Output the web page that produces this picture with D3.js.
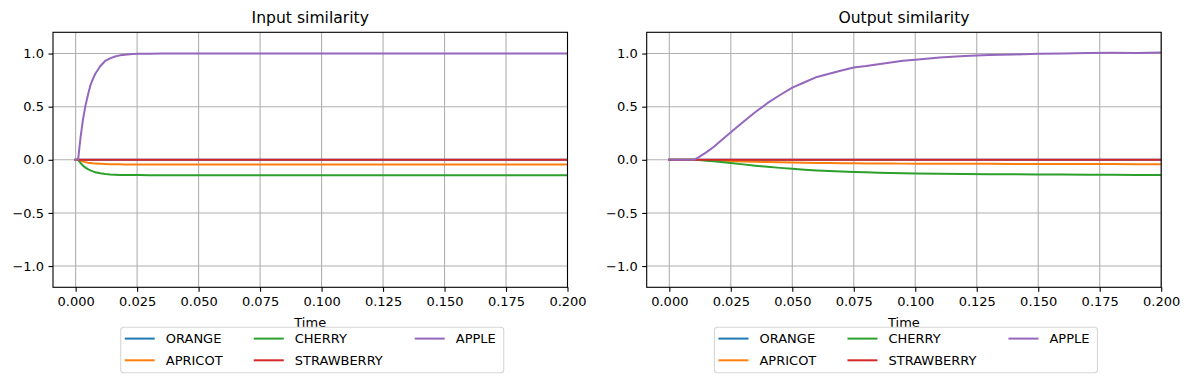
<!DOCTYPE html>
<html>
<head>
<meta charset="utf-8">
<script src="https://cdn.jsdelivr.net/npm/d3@7"></script>
<style>
  body { margin: 0; background: #fff; }
  text { font-family: "DejaVu Sans", sans-serif; fill: #000; }
</style>
</head>
<body>
<div id="chart"></div>
<script>
// series names, drawn in this order
var names = ["ORANGE", "APRICOT", "CHERRY", "STRAWBERRY", "APPLE"];
var colors = ["#1f77b4", "#ff7f0e", "#2ca02c", "#d62728", "#9467bd"];

// input similarity
var inTime = [0, 0.001, 0.002, 0.003, 0.004, 0.005, 0.006, 0.007, 0.008, 0.010, 0.012, 0.014, 0.016, 0.018, 0.020, 0.023, 0.026, 0.030, 0.035, 0.040, 0.050, 0.075, 0.100, 0.125, 0.150, 0.175, 0.200];
var inOrange = [0, 0, 0, 0, 0, 0, 0, 0, 0, 0, 0, 0, 0, 0, 0, 0, 0, 0, 0, 0, 0, 0, 0, 0, 0, 0, 0];
var inApricot = [0, 0, -0.009, -0.016, -0.022, -0.027, -0.030, -0.033, -0.035, -0.038, -0.040, -0.042, -0.043, -0.043, -0.044, -0.044, -0.044, -0.044, -0.044, -0.044, -0.044, -0.044, -0.044, -0.044, -0.044, -0.044, -0.044];
var inCherry = [0, 0, -0.030, -0.055, -0.074, -0.088, -0.100, -0.109, -0.117, -0.127, -0.134, -0.138, -0.140, -0.142, -0.143, -0.144, -0.144, -0.145, -0.145, -0.145, -0.145, -0.145, -0.145, -0.145, -0.145, -0.145, -0.145];
var inStrawberry = [0, 0, 0, 0, 0, 0, 0, 0, 0, 0, 0, 0, 0, 0, 0, 0, 0, 0, 0, 0, 0, 0, 0, 0, 0, 0, 0];
var inApple = [0, 0, 0.21, 0.38, 0.51, 0.61, 0.70, 0.76, 0.81, 0.88, 0.93, 0.955, 0.972, 0.983, 0.989, 0.995, 0.997, 0.999, 1.0, 1.0, 1.0, 1.0, 1.0, 1.0, 1.0, 1.0, 1.0];

// output similarity
var outTime = [0, 0.005, 0.010, 0.012, 0.015, 0.018, 0.020, 0.025, 0.030, 0.035, 0.040, 0.045, 0.050, 0.055, 0.060, 0.065, 0.070, 0.075, 0.080, 0.085, 0.090, 0.095, 0.100, 0.110, 0.120, 0.130, 0.140, 0.150, 0.160, 0.170, 0.180, 0.190, 0.200];
var outOrange = [0, 0, 0, 0, 0, 0, 0, 0, 0, 0, 0, 0, 0, 0, 0, 0, 0, 0, 0, 0, 0, 0, 0, 0, 0, 0, 0, 0, 0, 0, 0, 0, 0];
var outApricot = [0, 0, 0, -0.001, -0.003, -0.005, -0.007, -0.011, -0.015, -0.018, -0.021, -0.024, -0.026, -0.028, -0.029, -0.031, -0.032, -0.033, -0.034, -0.035, -0.035, -0.036, -0.036, -0.037, -0.038, -0.038, -0.039, -0.039, -0.040, -0.040, -0.040, -0.041, -0.041];
var outCherry = [0, 0, 0, -0.003, -0.008, -0.014, -0.019, -0.030, -0.043, -0.055, -0.066, -0.076, -0.085, -0.093, -0.100, -0.106, -0.111, -0.115, -0.118, -0.121, -0.124, -0.126, -0.128, -0.131, -0.133, -0.135, -0.137, -0.138, -0.139, -0.140, -0.141, -0.142, -0.143];
var outStrawberry = [0, 0, 0, 0, 0, 0, 0, 0, 0, 0, 0, 0, 0, 0, 0, 0, 0, 0, 0, 0, 0, 0, 0, 0, 0, 0, 0, 0, 0, 0, 0, 0, 0];
var outApple = [0, 0, 0, 0.025, 0.07, 0.12, 0.16, 0.26, 0.355, 0.45, 0.535, 0.61, 0.68, 0.73, 0.78, 0.81, 0.84, 0.868, 0.882, 0.90, 0.915, 0.932, 0.942, 0.962, 0.976, 0.987, 0.991, 0.998, 1.0, 1.006, 1.008, 1.006, 1.01];

var xTicks = [0, 0.025, 0.05, 0.075, 0.1, 0.125, 0.15, 0.175, 0.2];
var yTicks = [-1.0, -0.5, 0.0, 0.5, 1.0];

var panels = [
  {title: "Input similarity", left: 53, time: inTime, series: [inOrange, inApricot, inCherry, inStrawberry, inApple]},
  {title: "Output similarity", left: 646.7, time: outTime, series: [outOrange, outApricot, outCherry, outStrawberry, outApple]}
];

var W = 1189, H = 383;
var plotTop = 32.3, plotW = 514.5, plotH = 255;

var svg = d3.select("#chart").append("svg")
  .attr("width", W)
  .attr("height", H);

var fmtX = d3.format(".3f");
var fmtY = function(v) { return d3.format(".1f")(v).replace("-", "\u2212"); };

panels.forEach(function(p, pi) {
  var g = svg.append("g").attr("transform", "translate(" + p.left + "," + plotTop + ")");

  var x = d3.scaleLinear().domain([-0.0092, 0.2]).range([0, plotW]);
  var y = d3.scaleLinear().domain([-1.2, 1.2]).range([plotH, 0]);

  // grid
  g.selectAll(".vgrid").data(xTicks).enter().append("line")
    .attr("x1", function(d) { return x(d); }).attr("x2", function(d) { return x(d); })
    .attr("y1", 0).attr("y2", plotH)
    .style("stroke", "#b0b0b0").style("stroke-width", 1.1);
  g.selectAll(".hgrid").data(yTicks).enter().append("line")
    .attr("y1", function(d) { return y(d); }).attr("y2", function(d) { return y(d); })
    .attr("x1", 0).attr("x2", plotW)
    .style("stroke", "#b0b0b0").style("stroke-width", 1.1);

  // lines
  var clipId = "clip" + pi;
  g.append("clipPath").attr("id", clipId).append("rect")
    .attr("width", plotW).attr("height", plotH);
  var line = d3.line()
    .x(function(d) { return x(d[0]); })
    .y(function(d) { return y(d[1]); });
  p.series.forEach(function(vals, i) {
    var pts = p.time.map(function(t, j) { return [t, vals[j]]; });
    g.append("path")
      .datum(pts)
      .attr("clip-path", "url(#" + clipId + ")")
      .attr("d", line)
      .style("fill", "none")
      .style("stroke", colors[i])
      .style("stroke-width", 2)
      .style("stroke-linejoin", "round")
      .style("stroke-linecap", "square");
  });

  // axes
  var xAxis = d3.axisBottom(x).tickValues(xTicks).tickFormat(fmtX).tickSize(4.5).tickPadding(4.5);
  var yAxis = d3.axisLeft(y).tickValues(yTicks).tickFormat(fmtY).tickSize(4.5).tickPadding(4.5);
  var gx = g.append("g").attr("transform", "translate(0," + plotH + ")").call(xAxis);
  var gy = g.append("g").call(yAxis);
  [gx, gy].forEach(function(a) {
    a.select(".domain").remove();
    a.selectAll("line").style("stroke", "#000").style("stroke-width", 1.1);
    a.selectAll("text").style("font-size", "13px").style("font-family", "DejaVu Sans, sans-serif");
  });

  // frame
  g.append("rect")
    .attr("width", plotW).attr("height", plotH)
    .style("fill", "none").style("stroke", "#000").style("stroke-width", 1.1);

  // titles
  g.append("text")
    .attr("x", plotW / 2).attr("y", -9)
    .attr("text-anchor", "middle")
    .style("font-size", "15.6px")
    .text(p.title);
  g.append("text")
    .attr("x", plotW / 2).attr("y", plotH + 40)
    .attr("text-anchor", "middle")
    .style("font-size", "13px")
    .text("Time");

  // legend
  var lg = g.append("g").attr("transform", "translate(" + (plotW / 2 - 189.5) + "," + (plotH + 40) + ")");
  lg.append("rect")
    .attr("width", 383).attr("height", 45.5)
    .attr("rx", 3)
    .style("fill", "#fff").style("fill-opacity", 0.8)
    .style("stroke", "#d6d6d6").style("stroke-width", 1.1);
  var colX = [4, 133, 294];
  names.forEach(function(n, i) {
    var col = Math.floor(i / 2), row = i % 2;
    var ly = 11.3 + row * 21.7;
    lg.append("line")
      .attr("x1", colX[col]).attr("x2", colX[col] + 30)
      .attr("y1", ly).attr("y2", ly)
      .style("stroke", colors[i]).style("stroke-width", 2);
    lg.append("text")
      .attr("x", colX[col] + 41).attr("y", ly)
      .attr("dy", "0.35em")
      .style("font-size", "13px")
      .text(n);
  });
});
</script>
</body>
</html>
